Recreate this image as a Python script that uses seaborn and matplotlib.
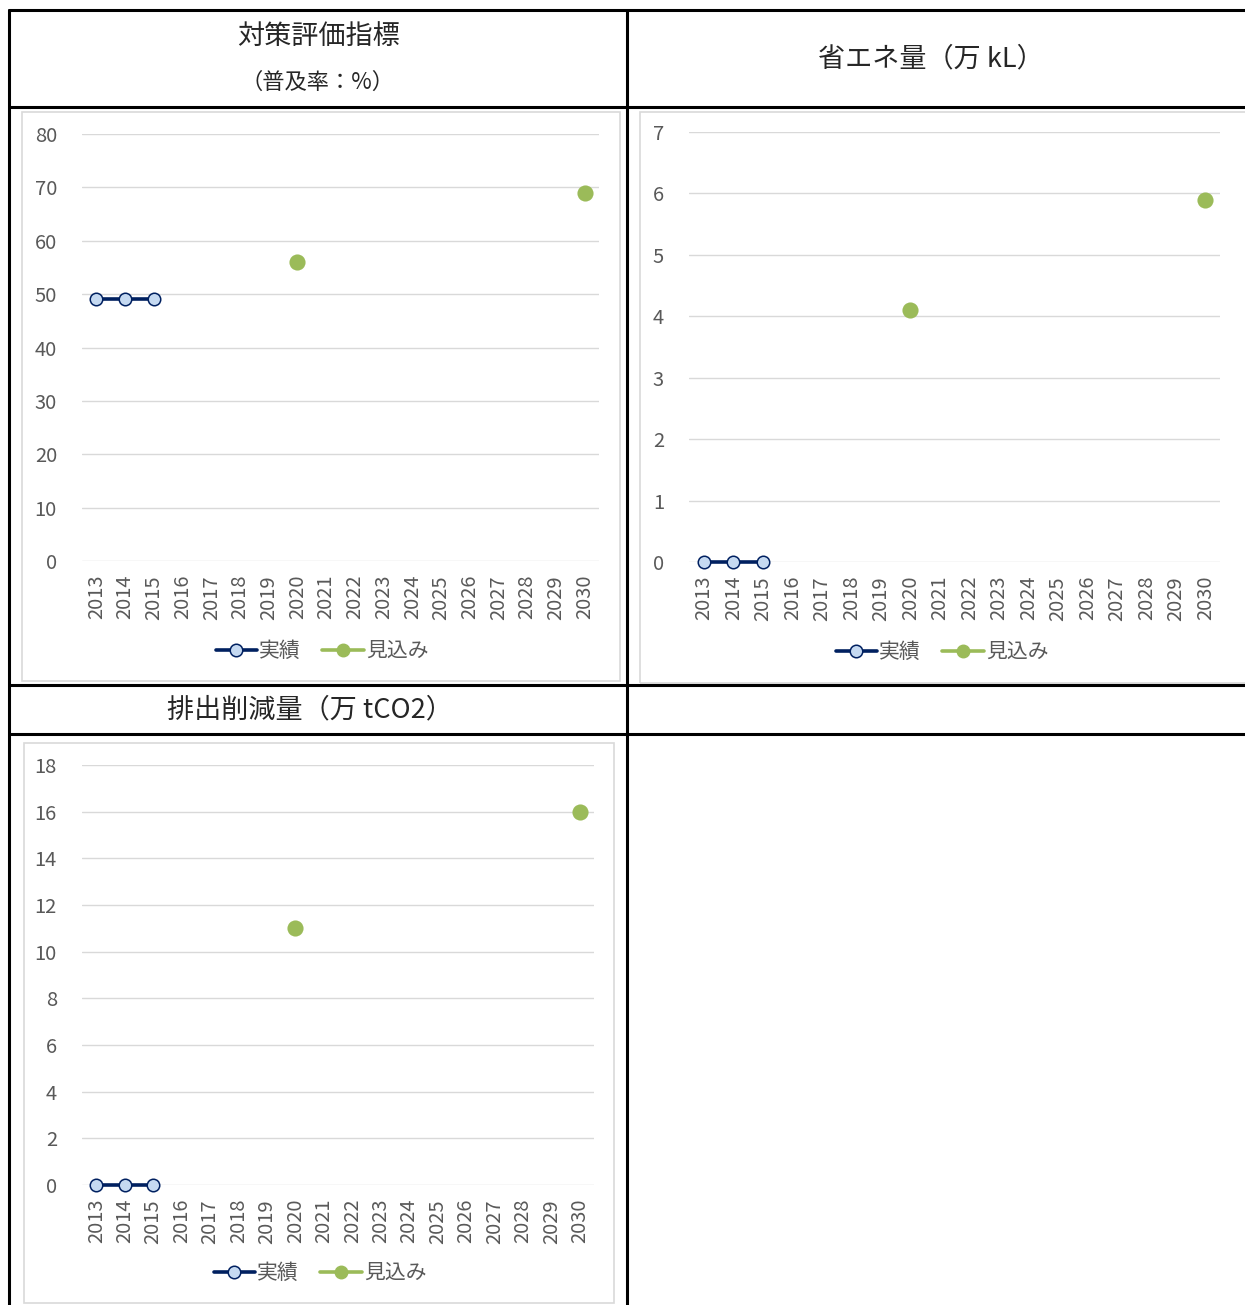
import pandas as pd
import matplotlib
matplotlib.use("Agg")
import matplotlib.pyplot as plt
import seaborn as sns
from matplotlib.lines import Line2D
from matplotlib.patches import Rectangle

# --- data ---
years = list(range(2013, 2031))
year_labels = [str(y) for y in years]

actual_years = [2013, 2014, 2015]      # 実績
forecast_years = [2020, 2030]          # 見込み

rate_actual = [49, 49, 49]
rate_forecast = [56, 69]
energy_actual = [0, 0, 0]
energy_forecast = [4.1, 5.9]
co2_actual = [0, 0, 0]
co2_forecast = [11, 16]

header_rate = "対策評価指標"
header_rate_sub = "（普及率：%）"
header_energy = "省エネ量（万 kL）"
header_co2 = "排出削減量（万 tCO2）"
legend_labels = ["実績", "見込み"]

NAVY = "#002060"
LIGHT = "#c5d9f1"
GREEN = "#9bbb59"
GRID = "#d9d9d9"
TXT = "#595959"

sns.set_style("white")
plt.rcParams["font.family"] = ["Noto Sans CJK JP", "DejaVu Sans"]

W, H = 1245, 1305
fig = plt.figure(figsize=(W / 100, H / 100), dpi=100)


def px_ax(x0, y0, x1, y1):
    return fig.add_axes([x0 / W, 1 - y1 / H, (x1 - x0) / W, (y1 - y0) / H])


def draw_chart(box, frame, ymax, step, actual, forecast, legend_xy):
    fx0, fy0, fx1, fy1 = frame
    fig.add_artist(Rectangle((fx0 / W, 1 - fy1 / H), (fx1 - fx0) / W, (fy1 - fy0) / H,
                             transform=fig.transFigure, fill=False,
                             edgecolor=GRID, lw=1.2))
    ax = px_ax(*box)
    pos = {y: i for i, y in enumerate(years)}
    df_a = pd.DataFrame({"pos": [pos[y] for y in actual_years], "val": actual})
    df_f = pd.DataFrame({"pos": [pos[y] for y in forecast_years], "val": forecast})

    sns.lineplot(data=df_a, x="pos", y="val", ax=ax, color=NAVY, lw=2.6,
                 marker="o", markersize=9, markerfacecolor=LIGHT,
                 markeredgecolor=NAVY, markeredgewidth=1.1, zorder=3, clip_on=False)
    sns.scatterplot(data=df_f, x="pos", y="val", ax=ax, color=GREEN, s=135,
                    edgecolor=GREEN, linewidth=0, zorder=3, clip_on=False)

    ax.set_xlim(-0.5, len(years) - 0.5)
    ax.set_ylim(0, ymax)
    ax.set_yticks([v * step for v in range(int(round(ymax / step)) + 1)])
    ax.set_xticks(range(len(years)))
    ax.set_xticklabels(year_labels, rotation=90)
    ax.tick_params(axis="x", length=0, pad=10, labelsize=14.5, labelcolor=TXT)
    ax.tick_params(axis="y", length=0, pad=18, labelsize=14.5, labelcolor=TXT)
    ax.yaxis.grid(True, color=GRID, lw=1)
    ax.set_axisbelow(True)
    ax.set_xlabel("")
    ax.set_ylabel("")
    for s in ax.spines.values():
        s.set_visible(False)

    handles = [
        Line2D([], [], color=NAVY, lw=2.6, marker="o", markersize=9,
               markerfacecolor=LIGHT, markeredgecolor=NAVY, markeredgewidth=1.1),
        Line2D([], [], color=GREEN, lw=2.6, marker="o", markersize=9,
               markerfacecolor=GREEN, markeredgecolor=GREEN),
    ]
    leg = ax.legend(handles, legend_labels, loc="center",
                    bbox_to_anchor=(legend_xy[0] / W, 1 - legend_xy[1] / H),
                    bbox_transform=fig.transFigure, ncol=2, frameon=False,
                    fontsize=15, handlelength=2.0, handletextpad=0.1,
                    columnspacing=1.0)
    for t in leg.get_texts():
        t.set_color(TXT)
    return ax


draw_chart((82, 134, 599, 561), (22, 112, 620, 681), 80, 10,
           rate_actual, rate_forecast, (322, 651))
draw_chart((689, 132, 1220, 562), (640, 112, 1250, 683), 7, 1,
           energy_actual, energy_forecast, (942, 652))
draw_chart((82, 765, 594, 1185), (24, 743, 614, 1303), 18, 2,
           co2_actual, co2_forecast, (320, 1273))

# --- table grid ---
def hline(y, x0=9, x1=W):
    fig.add_artist(Line2D([x0 / W, x1 / W], [1 - y / H, 1 - y / H],
                          transform=fig.transFigure, color="black", lw=2.2))


def vline(x, y0=10, y1=H):
    fig.add_artist(Line2D([x / W, x / W], [1 - y0 / H, 1 - y1 / H],
                          transform=fig.transFigure, color="black", lw=2.2))


for yy in (10, 107, 685, 734):
    hline(yy)
for xx in (9, 627):
    vline(xx)

fig.text(318 / W, 1 - 36 / H, header_rate, ha="center", va="center", fontsize=19.5)
fig.text(318 / W, 1 - 82 / H, header_rate_sub, ha="center", va="center", fontsize=16)
fig.text(931 / W, 1 - 59 / H, header_energy, ha="center", va="center", fontsize=19.5)
fig.text(310 / W, 1 - 710 / H, header_co2, ha="center", va="center", fontsize=19.5)

fig.savefig("out.png", dpi=100)
